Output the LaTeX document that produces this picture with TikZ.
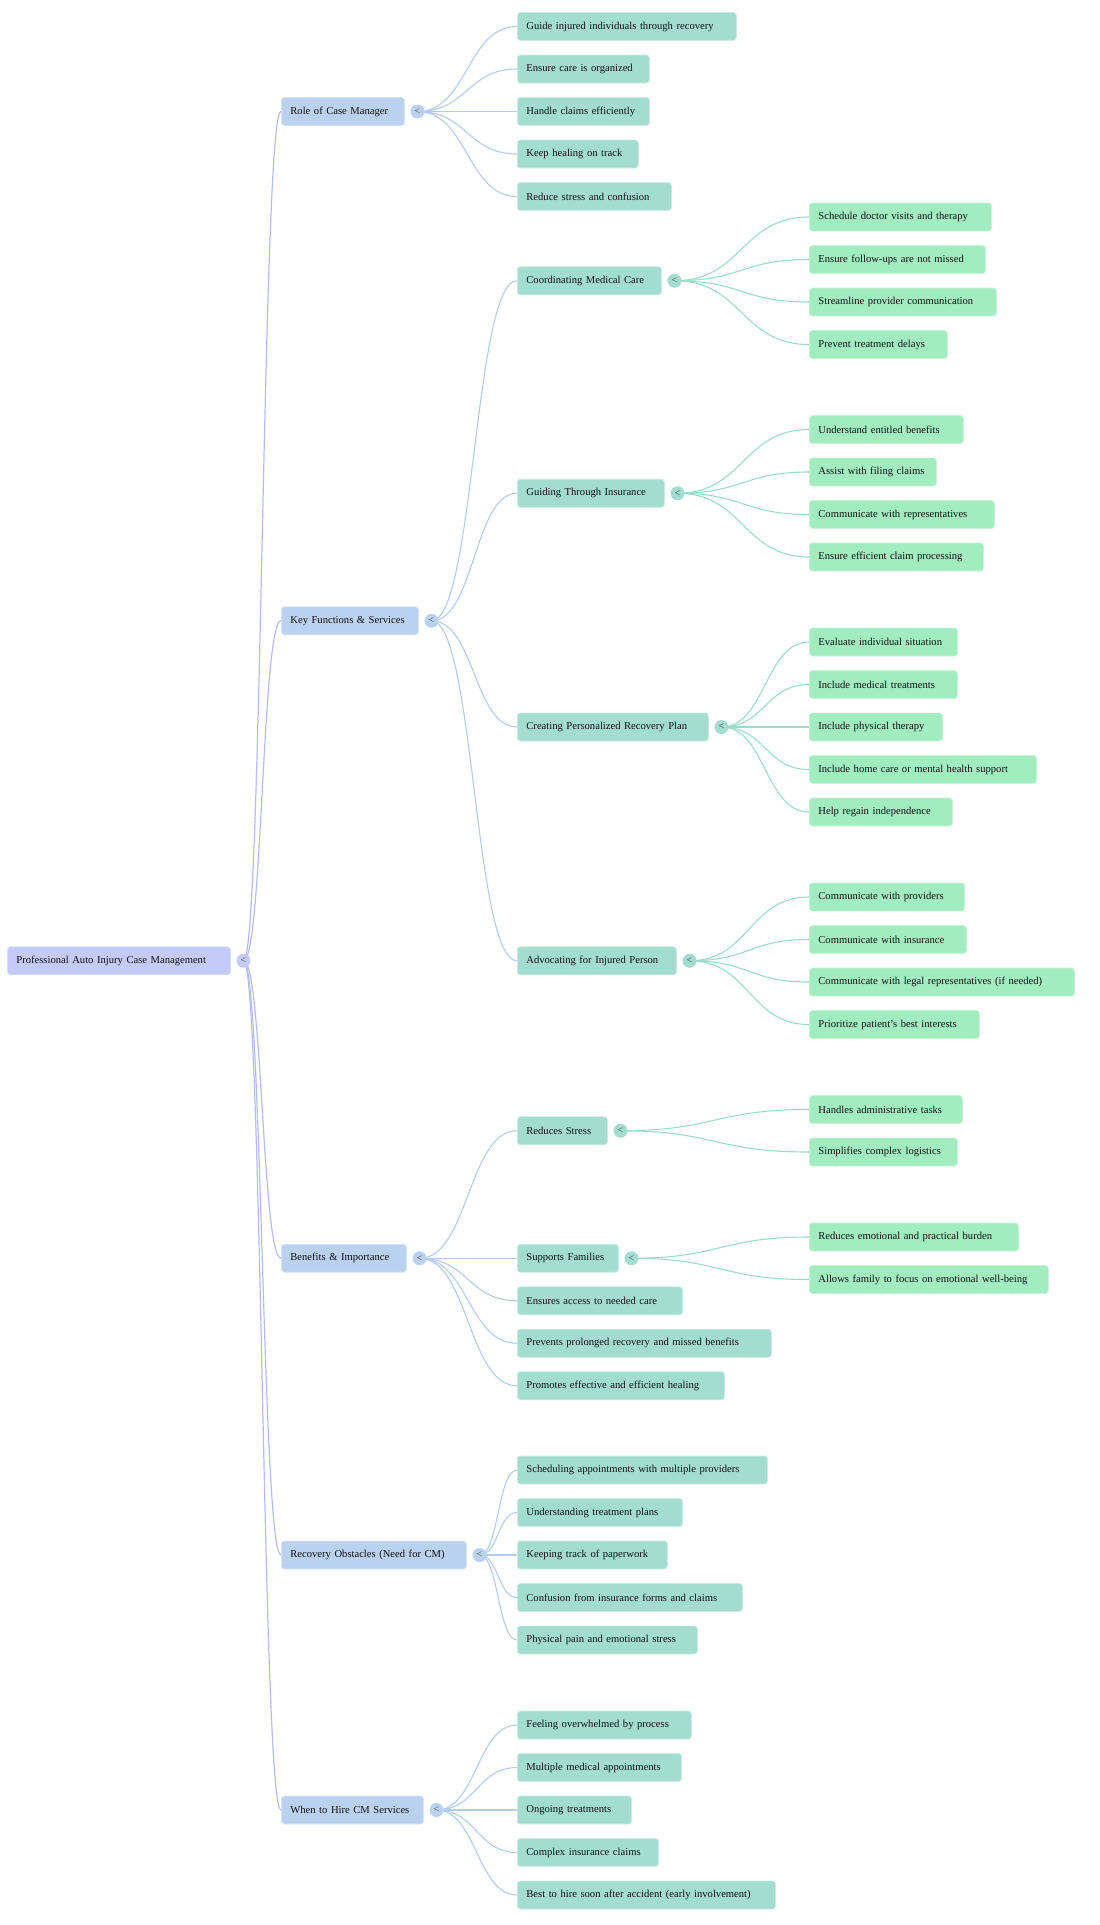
\documentclass[tikz,border=0pt]{standalone}
\usepackage{fontspec}
\setmainfont{Liberation Serif}
\usetikzlibrary{positioning}
\usetikzlibrary{backgrounds}
\definecolor{rootFill}{HTML}{C5CBF9}
\definecolor{rootLine}{HTML}{B5BCF5}
\definecolor{oneFill}{HTML}{BAD2F0}
\definecolor{oneLine}{HTML}{B2CCEE}
\definecolor{twoFill}{HTML}{A3DDD0}
\definecolor{twoLine}{HTML}{9BDBCB}
\definecolor{threeFill}{HTML}{A1EDC0}
\definecolor{textCol}{HTML}{111111}

\begin{document}
\begin{tikzpicture}[x=1pt, y=-1pt, font=\fontsize{10.6}{12}\selectfont]
	\useasboundingbox (0,0) rectangle (1100,1925);
	\tikzstyle{boxStyle}=[anchor=west, rounded corners=3pt, minimum height=28pt, inner xsep=9pt, inner ysep=0pt, align=left, text=textCol, line width=0.8pt, execute at begin node=\hbox\bgroup, execute at end node=\egroup]
	\tikzstyle{rootStyle}=[boxStyle, fill=rootFill, draw=rootFill!60!white]
	\tikzstyle{firstStyle}=[boxStyle, fill=oneFill, draw=oneFill!60!white]
	\tikzstyle{secondStyle}=[boxStyle, fill=twoFill, draw=twoFill!60!white]
	\tikzstyle{thirdStyle}=[boxStyle, fill=threeFill, draw=threeFill!60!white]
	\tikzstyle{toggleStyle}=[shape = circle, minimum size = 14pt, inner sep = 0pt, right = 5.5pt of #1, font=\fontsize{10}{10}\selectfont, text=black!75]
	\tikzstyle{rootEdge}=[draw=rootLine, line width=1.2pt]
	\tikzstyle{firstEdge}=[draw=oneLine, line width=1.1pt]
	\tikzstyle{secondEdge}=[draw=twoLine, line width=1.1pt]
	\node[rootStyle, text width=205pt] (pm) at (7,960.75) {Professional Auto Injury Case Management};
	\node[toggleStyle=pm, fill=rootFill] (pmT) {<};
	\node[firstStyle, text width=105pt] (role) at (281,111.5) {Role of Case Manager};
	\node[firstStyle, text width=119pt] (key) at (281,620.75) {Key Functions \& Services};
	\node[firstStyle, text width=107pt] (ben) at (281,1258.25) {Benefits \& Importance};
	\node[firstStyle, text width=167pt] (obs) at (281,1555) {Recovery Obstacles (Need for CM)};
	\node[firstStyle, text width=124pt] (hire) at (281,1810) {When to Hire CM Services};
	\node[toggleStyle=role, fill=oneFill] (roleT) {<};
	\node[toggleStyle=key, fill=oneFill] (keyT) {<};
	\node[toggleStyle=ben, fill=oneFill] (benT) {<};
	\node[toggleStyle=obs, fill=oneFill] (obsT) {<};
	\node[toggleStyle=hire, fill=oneFill] (hireT) {<};
	\node[secondStyle, text width=201pt] (role1) at (517,26.5) {Guide injured individuals through recovery};
	\node[secondStyle, text width=114pt] (role2) at (517,69) {Ensure care is organized};
	\node[secondStyle, text width=114pt] (role3) at (517,111.5) {Handle claims efficiently};
	\node[secondStyle, text width=103pt] (role4) at (517,154) {Keep healing on track};
	\node[secondStyle, text width=136pt] (role5) at (517,196.5) {Reduce stress and confusion};
	\node[secondStyle, text width=126pt] (med) at (517,280.75) {Coordinating Medical Care};
	\node[secondStyle, text width=129pt] (ins) at (517,493.25) {Guiding Through Insurance};
	\node[secondStyle, text width=173pt] (plan) at (517,727) {Creating Personalized Recovery Plan};
	\node[secondStyle, text width=141pt] (adv) at (517,960.75) {Advocating for Injured Person};
	\node[toggleStyle=med, fill=twoFill] (medT) {<};
	\node[toggleStyle=ins, fill=twoFill] (insT) {<};
	\node[toggleStyle=plan, fill=twoFill] (planT) {<};
	\node[toggleStyle=adv, fill=twoFill] (advT) {<};
	\node[secondStyle, text width=72pt] (stress) at (517,1130.75) {Reduces Stress};
	\node[secondStyle, text width=83pt] (fam) at (517,1258.25) {Supports Families};
	\node[secondStyle, text width=147pt] (ben3) at (517,1300.75) {Ensures access to needed care};
	\node[secondStyle, text width=236pt] (ben4) at (517,1343.25) {Prevents prolonged recovery and missed benefits};
	\node[secondStyle, text width=189pt] (ben5) at (517,1385.75) {Promotes effective and efficient healing};
	\node[toggleStyle=stress, fill=twoFill] (stressT) {<};
	\node[toggleStyle=fam, fill=twoFill] (famT) {<};
	\node[secondStyle, text width=232pt] (obs1) at (517,1470) {Scheduling appointments with multiple providers};
	\node[secondStyle, text width=147pt] (obs2) at (517,1512.5) {Understanding treatment plans};
	\node[secondStyle, text width=132pt] (obs3) at (517,1555) {Keeping track of paperwork};
	\node[secondStyle, text width=207pt] (obs4) at (517,1597.5) {Confusion from insurance forms and claims};
	\node[secondStyle, text width=162pt] (obs5) at (517,1640) {Physical pain and emotional stress};
	\node[secondStyle, text width=156pt] (hire1) at (517,1725) {Feeling overwhelmed by process};
	\node[secondStyle, text width=146pt] (hire2) at (517,1767.5) {Multiple medical appointments};
	\node[secondStyle, text width=96pt] (hire3) at (517,1810) {Ongoing treatments};
	\node[secondStyle, text width=123pt] (hire4) at (517,1852.5) {Complex insurance claims};
	\node[secondStyle, text width=240pt] (hire5) at (517,1895) {Best to hire soon after accident (early involvement)};
	\node[thirdStyle, text width=164pt] (med1) at (809,217) {Schedule doctor visits and therapy};
	\node[thirdStyle, text width=158pt] (med2) at (809,259.5) {Ensure follow-ups are not missed};
	\node[thirdStyle, text width=169pt] (med3) at (809,302) {Streamline provider communication};
	\node[thirdStyle, text width=120pt] (med4) at (809,344.5) {Prevent treatment delays};
	\node[thirdStyle, text width=136pt] (ins1) at (809,429.5) {Understand entitled benefits};
	\node[thirdStyle, text width=109pt] (ins2) at (809,472) {Assist with filing claims};
	\node[thirdStyle, text width=167pt] (ins3) at (809,514.5) {Communicate with representatives};
	\node[thirdStyle, text width=156pt] (ins4) at (809,557) {Ensure efficient claim processing};
	\node[thirdStyle, text width=130pt] (plan1) at (809,642) {Evaluate individual situation};
	\node[thirdStyle, text width=130pt] (plan2) at (809,684.5) {Include medical treatments};
	\node[thirdStyle, text width=115pt] (plan3) at (809,727) {Include physical therapy};
	\node[thirdStyle, text width=209pt] (plan4) at (809,769.5) {Include home care or mental health support};
	\node[thirdStyle, text width=125pt] (plan5) at (809,812) {Help regain independence};
	\node[thirdStyle, text width=137pt] (adv1) at (809,897) {Communicate with providers};
	\node[thirdStyle, text width=139pt] (adv2) at (809,939.5) {Communicate with insurance};
	\node[thirdStyle, text width=247pt] (adv3) at (809,982) {Communicate with legal representatives (if needed)};
	\node[thirdStyle, text width=152pt] (adv4) at (809,1024.5) {Prioritize patient's best interests};
	\node[thirdStyle, text width=135pt] (stress1) at (809,1109.5) {Handles administrative tasks};
	\node[thirdStyle, text width=130pt] (stress2) at (809,1152) {Simplifies complex logistics};
	\node[thirdStyle, text width=191pt] (fam1) at (809,1237) {Reduces emotional and practical burden};
	\node[thirdStyle, text width=221pt] (fam2) at (809,1279.5) {Allows family to focus on emotional well-being};
	\begin{pgfonlayer}{background}
	\draw[rootEdge] (pmT.center) to[out=0, in=180, distance=19pt] (role.west);
	\draw[rootEdge] (pmT.center) to[out=0, in=180, distance=19pt] (key.west);
	\draw[rootEdge] (pmT.center) to[out=0, in=180, distance=19pt] (ben.west);
	\draw[rootEdge] (pmT.center) to[out=0, in=180, distance=19pt] (obs.west);
	\draw[rootEdge] (pmT.center) to[out=0, in=180, distance=19pt] (hire.west);
	\draw[firstEdge] (roleT.center) to[out=0, in=180, distance=50pt] (role1.west);
	\draw[firstEdge] (roleT.center) to[out=0, in=180, distance=50pt] (role2.west);
	\draw[firstEdge] (roleT.center) to[out=0, in=180, distance=50pt] (role3.west);
	\draw[firstEdge] (roleT.center) to[out=0, in=180, distance=50pt] (role4.west);
	\draw[firstEdge] (roleT.center) to[out=0, in=180, distance=50pt] (role5.west);
	\draw[firstEdge] (keyT.center) to[out=0, in=180, distance=43pt] (med.west);
	\draw[firstEdge] (keyT.center) to[out=0, in=180, distance=43pt] (ins.west);
	\draw[firstEdge] (keyT.center) to[out=0, in=180, distance=43pt] (plan.west);
	\draw[firstEdge] (keyT.center) to[out=0, in=180, distance=43pt] (adv.west);
	\draw[firstEdge] (benT.center) to[out=0, in=180, distance=49pt] (stress.west);
	\draw[firstEdge] (benT.center) to[out=0, in=180, distance=49pt] (fam.west);
	\draw[firstEdge] (benT.center) to[out=0, in=180, distance=49pt] (ben3.west);
	\draw[firstEdge] (benT.center) to[out=0, in=180, distance=49pt] (ben4.west);
	\draw[firstEdge] (benT.center) to[out=0, in=180, distance=49pt] (ben5.west);
	\draw[firstEdge] (obsT.center) to[out=0, in=180, distance=19pt] (obs1.west);
	\draw[firstEdge] (obsT.center) to[out=0, in=180, distance=19pt] (obs2.west);
	\draw[firstEdge] (obsT.center) to[out=0, in=180, distance=19pt] (obs3.west);
	\draw[firstEdge] (obsT.center) to[out=0, in=180, distance=19pt] (obs4.west);
	\draw[firstEdge] (obsT.center) to[out=0, in=180, distance=19pt] (obs5.west);
	\draw[firstEdge] (hireT.center) to[out=0, in=180, distance=40pt] (hire1.west);
	\draw[firstEdge] (hireT.center) to[out=0, in=180, distance=40pt] (hire2.west);
	\draw[firstEdge] (hireT.center) to[out=0, in=180, distance=40pt] (hire3.west);
	\draw[firstEdge] (hireT.center) to[out=0, in=180, distance=40pt] (hire4.west);
	\draw[firstEdge] (hireT.center) to[out=0, in=180, distance=40pt] (hire5.west);
	\draw[secondEdge] (medT.center) to[out=0, in=180, distance=68pt] (med1.west);
	\draw[secondEdge] (medT.center) to[out=0, in=180, distance=68pt] (med2.west);
	\draw[secondEdge] (medT.center) to[out=0, in=180, distance=68pt] (med3.west);
	\draw[secondEdge] (medT.center) to[out=0, in=180, distance=68pt] (med4.west);
	\draw[secondEdge] (insT.center) to[out=0, in=180, distance=66pt] (ins1.west);
	\draw[secondEdge] (insT.center) to[out=0, in=180, distance=66pt] (ins2.west);
	\draw[secondEdge] (insT.center) to[out=0, in=180, distance=66pt] (ins3.west);
	\draw[secondEdge] (insT.center) to[out=0, in=180, distance=66pt] (ins4.west);
	\draw[secondEdge] (planT.center) to[out=0, in=180, distance=44pt] (plan1.west);
	\draw[secondEdge] (planT.center) to[out=0, in=180, distance=44pt] (plan2.west);
	\draw[secondEdge] (planT.center) to[out=0, in=180, distance=44pt] (plan3.west);
	\draw[secondEdge] (planT.center) to[out=0, in=180, distance=44pt] (plan4.west);
	\draw[secondEdge] (planT.center) to[out=0, in=180, distance=44pt] (plan5.west);
	\draw[secondEdge] (advT.center) to[out=0, in=180, distance=60pt] (adv1.west);
	\draw[secondEdge] (advT.center) to[out=0, in=180, distance=60pt] (adv2.west);
	\draw[secondEdge] (advT.center) to[out=0, in=180, distance=60pt] (adv3.west);
	\draw[secondEdge] (advT.center) to[out=0, in=180, distance=60pt] (adv4.west);
	\draw[secondEdge] (stressT.center) to[out=0, in=180, distance=95pt] (stress1.west);
	\draw[secondEdge] (stressT.center) to[out=0, in=180, distance=95pt] (stress2.west);
	\draw[secondEdge] (famT.center) to[out=0, in=180, distance=89pt] (fam1.west);
	\draw[secondEdge] (famT.center) to[out=0, in=180, distance=89pt] (fam2.west);
	\end{pgfonlayer}
\end{tikzpicture}
\end{document}
